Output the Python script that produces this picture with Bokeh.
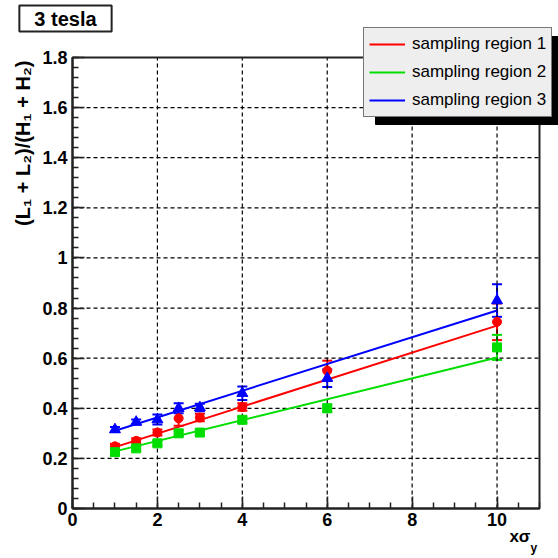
import numpy as np
from math import pi
from bokeh.plotting import figure
from bokeh.models import (ColumnDataSource, Whisker, TeeHead, FixedTicker, Legend,
                          LegendItem, Label, Range1d, BoxAnnotation)
from bokeh.embed import file_html
from bokeh.resources import INLINE

# ---------------- data ----------------
x_pos = [1, 1.5, 2, 2.5, 3, 4, 6, 10]
red_y = [0.248, 0.27, 0.303, 0.36, 0.363, 0.405, 0.55, 0.745]
red_err = [0.01, 0.01, 0.012, 0.03, 0.015, 0.015, 0.04, 0.073]
green_y = [0.225, 0.24, 0.26, 0.30, 0.303, 0.354, 0.40, 0.643]
green_err = [0.01, 0.01, 0.01, 0.012, 0.01, 0.012, 0.015, 0.05]
blue_y = [0.315, 0.345, 0.355, 0.40, 0.403, 0.46, 0.52, 0.83]
blue_err = [0.01, 0.01, 0.02, 0.02, 0.015, 0.027, 0.035, 0.065]

fit_x = [1, 10]
red_fit = [0.245, 0.73]
green_fit = [0.228, 0.603]
blue_fit = [0.31, 0.79]

series_names = ["sampling region 1", "sampling region 2", "sampling region 3"]
x_ticks = [0, 2, 4, 6, 8, 10]
y_ticks = [0, 0.2, 0.4, 0.6, 0.8, 1.0, 1.2, 1.4, 1.6, 1.8]
y_tick_labels = ["0", "0.2", "0.4", "0.6", "0.8", "1", "1.2", "1.4", "1.6", "1.8"]
x_lim = (0, 11)
y_lim = (0, 1.8)

FONT = "Liberation Sans"
W, H = 558, 558
# pixel placement of the axis box inside the canvas
BOX_L, BOX_R, BOX_T, BOX_B = 72, 539, 57, 508

sx = (BOX_R - BOX_L) / (x_lim[1] - x_lim[0])
sy = (BOX_B - BOX_T) / (y_lim[1] - y_lim[0])
x_range = Range1d(x_lim[0] - BOX_L / sx, x_lim[1] + (W - BOX_R) / sx)
y_range = Range1d(y_lim[0] - (H - BOX_B) / sy, y_lim[1] + BOX_T / sy)

p = figure(width=W, height=H, x_range=x_range, y_range=y_range,
           output_backend="svg", toolbar_location=None, min_border=0)
p.title.visible = False
p.background_fill_color = "white"
p.border_fill_color = "white"
p.outline_line_color = None
p.xgrid.visible = False
p.ygrid.visible = False

# axes, fixed at the data origin
x_minor = list(np.arange(0, 11.01, 0.5))
y_minor = list(np.round(np.arange(0, 1.801, 0.04), 3))
p.xaxis.ticker = FixedTicker(ticks=x_ticks, minor_ticks=x_minor)
p.yaxis.ticker = FixedTicker(ticks=y_ticks, minor_ticks=y_minor)
p.yaxis.major_label_overrides = {t: l for t, l in zip(y_ticks, y_tick_labels)}
p.xaxis.fixed_location = y_lim[0]
p.yaxis.fixed_location = x_lim[0]
p.xaxis.bounds = x_lim
p.yaxis.bounds = y_lim
for ax in (p.xaxis, p.yaxis):
    ax.axis_line_width = 2
    ax.axis_line_color = "#222222"
    ax.major_tick_in = 12
    ax.major_tick_out = 0
    ax.minor_tick_in = 6
    ax.minor_tick_out = 0
    ax.major_tick_line_width = 1.5
    ax.minor_tick_line_width = 1.5
    ax.major_tick_line_color = "#222222"
    ax.minor_tick_line_color = "#222222"
    ax.major_label_text_font = FONT
    ax.major_label_text_font_style = "bold"
    ax.major_label_text_font_size = "18px"
    ax.major_label_text_color = "black"
p.xaxis.major_label_standoff = 4
p.yaxis.major_label_standoff = 5

# dashed grid, spanning the axis box
p.segment(x0=x_ticks, y0=[y_lim[0]] * len(x_ticks), x1=x_ticks, y1=[y_lim[1]] * len(x_ticks),
          line_color="black", line_width=1.2, line_dash="4 3")
p.segment(x0=[x_lim[0]] * len(y_ticks), y0=y_ticks, x1=[x_lim[1]] * len(y_ticks), y1=y_ticks,
          line_color="black", line_width=1.2, line_dash="4 3")
# frame
p.quad(left=[x_lim[0]], right=[x_lim[1]], bottom=[y_lim[0]], top=[y_lim[1]],
       fill_alpha=0, line_color="#222222", line_width=2)

# fit lines
colors = ["#ff0000", "#00dd00", "#0000ff"]
fits = [red_fit, green_fit, blue_fit]
vals = [red_y, green_y, blue_y]
errs = [red_err, green_err, blue_err]
markers = ["circle", "square", "triangle"]
sizes = [9, 9, 11]

line_renderers = []
for c, f in zip(colors, fits):
    r = p.line(fit_x, f, line_color=c, line_width=2)
    line_renderers.append(r)

for c, v, e, m, s in zip(colors, vals, errs, markers, sizes):
    src = ColumnDataSource(dict(x=x_pos, y=v,
                                lo=[a - b for a, b in zip(v, e)],
                                hi=[a + b for a, b in zip(v, e)]))
    w = Whisker(base="x", lower="lo", upper="hi", source=src, line_color=c, line_width=2,
                upper_head=TeeHead(size=10, line_color=c, line_width=2),
                lower_head=TeeHead(size=10, line_color=c, line_width=2))
    p.add_layout(w)
    p.scatter("x", "y", source=src, marker=m, size=s, fill_color=c, line_color=c)

# legend shadow box (screen units measured from the canvas bottom-left)
LEG_L, LEG_R, LEG_T, LEG_B = 363, 555, 29, 117
p.add_layout(BoxAnnotation(left=LEG_L + 12, right=LEG_R + 12, top=H - LEG_T - 7, bottom=H - LEG_B - 7,
                           left_units="screen", right_units="screen",
                           top_units="screen", bottom_units="screen",
                           fill_color="black", fill_alpha=1, line_color="black", line_alpha=1))
legend = Legend(items=[LegendItem(label=n, renderers=[r]) for n, r in zip(series_names, line_renderers)],
                location=(LEG_L, H - LEG_B), background_fill_color="#eeeeee",
                label_text_color="black", glyph_width=36, glyph_height=22, label_height=22,
                spacing=6, padding=5, label_standoff=7, margin=0, label_text_font=FONT,
                label_text_font_size="17px", border_line_color="black", border_line_width=1.5,
                background_fill_alpha=1)
p.add_layout(legend)

# title box
p.add_layout(Label(x=65, y=H - 18, x_units="screen", y_units="screen", text="3 tesla",
                   text_align="center", text_baseline="middle", text_font=FONT,
                   text_font_style="bold", text_font_size="20px", text_color="black",
                   background_fill_color="white", border_line_color="#222222",
                   border_line_width=2, padding=(15, 2)))

# y axis title
p.add_layout(Label(x=22, y=H - 60, x_units="screen", y_units="screen",
                   text="(L\u2081 + L\u2082)/(H\u2081 + H\u2082)", angle=pi / 2,
                   text_align="right", text_baseline="middle", text_font=FONT,
                   text_font_style="bold", text_font_size="20px", text_color="black"))

# x axis title
p.add_layout(Label(x=530, y=H - 536, x_units="screen", y_units="screen", text="x\u03c3",
                   text_align="right", text_baseline="middle", text_font=FONT,
                   text_font_style="bold", text_font_size="17px", text_color="black"))
p.add_layout(Label(x=530, y=H - 547, x_units="screen", y_units="screen", text="y",
                   text_align="left", text_baseline="middle", text_font=FONT,
                   text_font_style="bold", text_font_size="12px", text_color="black"))

open("out.html", "w").write(file_html(p, INLINE))
